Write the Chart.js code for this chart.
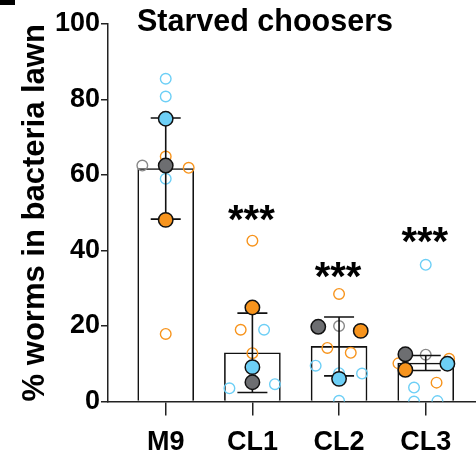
<!DOCTYPE html>
<html>
<head>
<meta charset="utf-8">
<script src="https://cdn.jsdelivr.net/npm/chart.js@4/dist/chart.umd.min.js"></script>
<style>
  html, body { margin: 0; padding: 0; background: #fff; }
  #wrap { width: 476px; height: 457px; position: relative; }
</style>
</head>
<body>
<div id="wrap"><canvas id="chooserChart"></canvas></div>
<script>
// === DATA ===
const categories = ['M9', 'CL1', 'CL2', 'CL3'];
const barMeans = [61.7, 12.9, 14.6, 10.2];
const barSD = [13.4, 10.5, 7.8, 2.0];
const sigLabels = ['', '***', '***', '***'];
const sigY = [null, 49.5, 34.4, 43.7];
const yTicks = [0, 20, 40, 60, 80, 100];

// individual worms (open) - category, jitter (category units), value
const openBlueCat = [0, 0, 0, 1, 1, 1, 2, 2, 2, 2, 3, 3, 3, 3];
const openBlueJit = [0, 0, 0, 0.135, -0.265, 0.26, -0.27, 0.265, 0, 0, 0, -0.135, -0.135, 0.135];
const openBlueVal = [85.5, 80.8, 59.0, 19.0, 3.5, 4.6, 9.5, 7.4, 7.5, 0.2, 36.2, 3.7, 0, 0.1];

const openOrangeCat = [0, 0, 0, 1, 1, 1, 2, 2, 2, 3, 3, 3];
const openOrangeJit = [0, 0.265, 0, 0, -0.135, 0, 0, -0.135, 0.135, 0.27, -0.315, 0.125];
const openOrangeVal = [64.9, 61.9, 17.9, 42.6, 19.0, 12.8, 28.5, 14.2, 12.9, 11.3, 10.1, 5.0];

const openGrayCat = [0, 2, 3];
const openGrayJit = [-0.27, 0, 0];
const openGrayVal = [62.5, 20.0, 12.4];

// replicate means (filled)
const filledBlueJit = [0, 0, 0, 0.25];
const filledBlueVal = [74.9, 9.1, 6.0, 10.0];
const filledOrangeJit = [0, 0, 0.25, -0.235];
const filledOrangeVal = [48.1, 24.9, 18.7, 8.4];
const filledGrayJit = [0, 0, -0.24, -0.235];
const filledGrayVal = [62.5, 5.1, 19.8, 12.5];

const BLUE = '#6dcff6';
const ORANGE = '#f7941d';
const GRAY = '#6d6e71';

const pts = (cats, jit, vals) => vals.map((v, i) => ({ x: cats[i] + jit[i], y: v }));
const allCats = categories.map((c, i) => i);

function openSet(label, color, data) {
  return {
    type: 'scatter', label, data, order: 2,
    pointRadius: 5.3, pointBorderWidth: 1.4,
    pointBackgroundColor: 'rgba(255,255,255,0)', pointBorderColor: color
  };
}
function filledSet(label, color, data) {
  return {
    type: 'scatter', label, data, order: 1,
    pointRadius: 7.2, pointBorderWidth: 1.5,
    pointBackgroundColor: color, pointBorderColor: '#111'
  };
}

// error bars go above the open dots, under the filled ones
const errorBars = {
  id: 'errorBars',
  afterDatasetDraw(chart, args) {
    if (!chart.data.datasets[args.index].errorsAfter) return;
    const { ctx, scales: { x, y } } = chart;
    ctx.save();
    ctx.strokeStyle = '#111';
    ctx.lineWidth = 1.6;
    barMeans.forEach((m, i) => {
      const px = x.getPixelForValue(i);
      const top = y.getPixelForValue(m + barSD[i]);
      const bot = y.getPixelForValue(m - barSD[i]);
      ctx.beginPath();
      ctx.moveTo(px, top); ctx.lineTo(px, bot);
      ctx.moveTo(px - 15, top); ctx.lineTo(px + 15, top);
      ctx.moveTo(px - 15, bot); ctx.lineTo(px + 15, bot);
      ctx.stroke();
    });
    ctx.restore();
  }
};

const annotations = {
  id: 'annotations',
  afterDraw(chart) {
    const { ctx, scales: { x, y } } = chart;
    ctx.save();
    ctx.fillStyle = '#000';
    ctx.fillRect(0, 0, 15, 5);
    ctx.font = 'bold 30.5px "Liberation Sans", Arial, sans-serif';
    ctx.textBaseline = 'alphabetic';
    ctx.textAlign = 'left';
    ctx.fillText('Starved choosers', 137, 31);
    ctx.font = 'bold 40px "Liberation Sans", Arial, sans-serif';
    ctx.textAlign = 'center';
    ctx.textBaseline = 'middle';
    sigLabels.forEach((s, i) => {
      if (!s) return;
      ctx.fillText(s, x.getPixelForValue(i) - 1, y.getPixelForValue(sigY[i]) + 7);
    });
    ctx.restore();
  }
};

const tickFont = { family: '"Liberation Sans", Arial, sans-serif', size: 27, weight: 'bold' };

new Chart(document.getElementById('chooserChart').getContext('2d'), {
  data: {
    datasets: [
      {
        type: 'bar', label: 'Mean', order: 3,
        data: barMeans.map((m, i) => ({ x: i, y: m })),
        backgroundColor: '#fff', borderColor: '#111', borderWidth: 1.6,
        barThickness: 56
      },
      Object.assign(openSet('Open blue', BLUE, pts(openBlueCat, openBlueJit, openBlueVal)), { errorsAfter: true }),
      openSet('Open orange', ORANGE, pts(openOrangeCat, openOrangeJit, openOrangeVal)),
      openSet('Open gray', '#888', pts(openGrayCat, openGrayJit, openGrayVal)),
      filledSet('Blue', BLUE, pts(allCats, filledBlueJit, filledBlueVal)),
      filledSet('Orange', ORANGE, pts(allCats, filledOrangeJit, filledOrangeVal)),
      filledSet('Gray', GRAY, pts(allCats, filledGrayJit, filledGrayVal))
    ]
  },
  options: {
    responsive: true,
    maintainAspectRatio: false,
    animation: false,
    layout: { autoPadding: false, padding: { top: 24, right: 0, left: 0, bottom: 0 } },
    plugins: { legend: { display: false }, tooltip: { enabled: false } },
    scales: {
      x: {
        type: 'linear', min: -0.666, max: 3.58, offset: false,
        afterBuildTicks: (s) => { s.ticks = categories.map((c, i) => ({ value: i })); },
        afterFit: (s) => { s.height = 55.5; s.paddingLeft = 0; s.paddingRight = 0; },
        ticks: {
          callback: (v) => categories[v], autoSkip: false, maxRotation: 0,
          color: '#000', font: tickFont, padding: 11
        },
        grid: { offset: false, drawOnChartArea: false, tickLength: 14, color: '#222', lineWidth: 1.5 },
        border: { color: '#222', width: 1.5 }
      },
      y: {
        min: 0, max: 100,
        afterBuildTicks: (s) => { s.ticks = yTicks.map(v => ({ value: v })); },
        afterFit: (s) => { s.width = 108; },
        ticks: { color: '#000', font: tickFont, padding: 1 },
        grid: { drawOnChartArea: false, tickLength: 7, color: '#222', lineWidth: 1.5 },
        border: { color: '#222', width: 1.5 },
        title: {
          display: true, text: '% worms in bacteria lawn', color: '#000',
          font: { family: '"Liberation Sans", Arial, sans-serif', size: 31, weight: 'bold', lineHeight: 1 },
          padding: { top: 19.5, bottom: 0 }
        }
      }
    }
  },
  plugins: [errorBars, annotations]
});
</script>
</body>
</html>
